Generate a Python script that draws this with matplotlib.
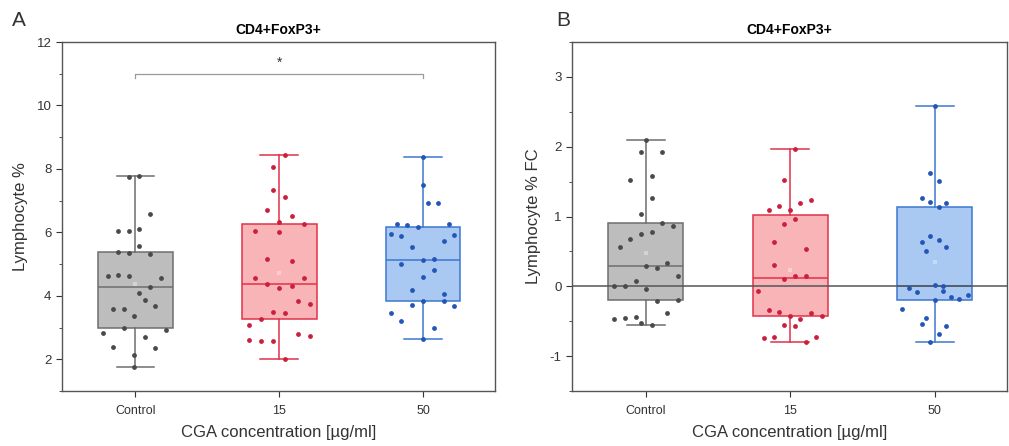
import matplotlib.pyplot as plt
import numpy as np

plt.rcParams['font.family'] = ['Liberation Sans', 'DejaVu Sans']
plt.rcParams['axes.unicode_minus'] = False

groups = ['Control', '15', '50']

# Panel A: Lymphocyte %
a_control = [7.73, 7.77, 6.57, 6.05, 6.05, 6.10, 5.56, 5.37, 5.35, 5.33, 4.62, 4.67, 4.62, 4.56, 4.27,
             4.10, 3.87, 3.67, 3.60, 3.59, 3.37, 2.99, 2.84, 2.92, 2.69, 2.40, 2.36, 2.13, 1.76]
a_control_jit = [-0.046, 0.028, 0.10, -0.118, -0.044, 0.028, 0.028, -0.118, -0.044, 0.10, -0.19, -0.118, -0.044,
                 0.178, 0.10, 0.028, 0.065, 0.14, -0.154, -0.081, -0.007, -0.081, -0.228, 0.215, 0.065, -0.154,
                 0.14, -0.007, -0.007]
a_15 = [8.43, 8.07, 7.35, 7.10, 6.70, 6.52, 6.33, 6.27, 6.04, 6.00, 5.15, 5.11, 4.56, 4.56, 4.38, 4.32, 4.24,
        3.85, 3.73, 3.48, 3.45, 3.28, 3.09, 2.80, 2.73, 2.62, 2.58, 2.57, 2.00]
a_15_jit = [0.04, -0.04, -0.04, 0.04, -0.083, 0.088, 0.0, 0.173, -0.171, 0.0, -0.083, 0.088, -0.171, 0.173,
            -0.083, 0.088, 0.0, 0.129, 0.215, -0.04, 0.04, -0.127, -0.212, 0.129, 0.215, -0.212, -0.127, -0.04, 0.04]
a_50 = [8.38, 7.48, 6.93, 6.94, 6.25, 6.22, 6.16, 6.26, 5.94, 5.90, 5.92, 5.72, 5.54, 5.12, 5.15, 4.99, 4.82,
        4.59, 4.18, 4.05, 3.84, 3.84, 3.72, 3.69, 3.46, 3.20, 3.00, 2.63]
a_50_jit = [0.0, 0.0, 0.035, 0.104, -0.182, -0.111, -0.035, 0.182, -0.221, -0.15, 0.212, 0.145, -0.074, 0.0,
            0.074, -0.15, 0.074, 0.0, -0.074, 0.145, 0.0, 0.145, -0.074, 0.212, -0.221, -0.15, 0.074, 0.0]
# box quartiles (Q1, median, Q3)
a_quartiles = [(3.00, 4.29, 5.39), (3.28, 4.38, 6.26), (3.85, 5.13, 6.17)]

# Panel B: Lymphocyte % FC
b_control = [2.09, 1.93, 1.92, 1.58, 1.52, 1.27, 1.03, 0.90, 0.87, 0.78, 0.75, 0.68, 0.56, 0.34, 0.29, 0.26,
             0.15, 0.08, 0.01, 0.01, -0.04, -0.21, -0.19, -0.38, -0.47, -0.45, -0.44, -0.52, -0.55]
b_control_jit = [0.0, -0.035, 0.11, 0.04, -0.11, 0.04, -0.035, 0.11, 0.187, 0.04, -0.035, -0.11, -0.18, 0.15,
                 0.0, 0.076, 0.22, -0.07, -0.22, -0.145, 0.0, 0.076, 0.22, 0.15, -0.22, -0.145, -0.07, -0.035, 0.04]
b_15 = [1.97, 1.52, 1.24, 1.19, 1.15, 1.09, 1.09, 0.96, 0.89, 0.64, 0.54, 0.31, 0.15, 0.15, 0.10, -0.07, -0.34,
        -0.37, -0.38, -0.42, -0.42, -0.47, -0.55, -0.57, -0.74, -0.73, -0.73, -0.80]
b_15_jit = [0.035, -0.04, 0.145, 0.07, -0.076, -0.15, 0.0, 0.035, -0.04, -0.11, 0.11, -0.11, 0.035, 0.11, -0.04,
            -0.22, -0.15, -0.076, 0.145, 0.22, 0.0, 0.07, -0.04, 0.035, -0.185, -0.11, 0.18, 0.11]
b_50 = [2.58, 1.62, 1.51, 1.26, 1.21, 1.19, 1.13, 0.72, 0.67, 0.63, 0.56, 0.51, 0.02, 0.01, -0.02, -0.08, -0.07,
        -0.15, -0.12, -0.18, -0.20, -0.32, -0.46, -0.54, -0.57, -0.68, -0.80]
b_50_jit = [0.0, -0.03, 0.03, -0.09, -0.03, 0.08, 0.03, -0.03, 0.03, -0.09, 0.08, -0.06, 0.0, 0.055, -0.18,
            -0.12, 0.055, 0.11, 0.23, 0.17, 0.0, -0.23, -0.06, -0.09, 0.08, 0.03, -0.03]
b_quartiles = [(-0.19, 0.29, 0.91), (-0.43, 0.12, 1.02), (-0.20, 0.0, 1.13)]

face_colors = ['#bdbdbd', '#f9b4b8', '#a9c8f2']
edge_colors = ['#6e6e6e', '#e0324a', '#3d78d0']
point_colors = ['#4a4a4a', '#cc1f3c', '#2356b8']
txt = '#333333'


def box_stats(values, quart):
    # whiskers go to min / max
    q1, med, q3 = quart
    return dict(med=med, q1=q1, q3=q3, whislo=min(values), whishi=max(values), fliers=[])


def draw_panel(ax, data, jitters, quartiles):
    pos = [1, 2, 3]
    stats = [box_stats(d, q) for d, q in zip(data, quartiles)]
    bp = ax.bxp(stats, positions=pos, widths=0.52, patch_artist=True,
                showfliers=False, capwidths=0.26, zorder=2)
    for i in range(3):
        bp['boxes'][i].set(facecolor=face_colors[i], edgecolor=edge_colors[i], linewidth=1.1)
        bp['medians'][i].set(color=edge_colors[i], linewidth=1.1)
        for w in bp['whiskers'][2 * i:2 * i + 2]:
            w.set(color=edge_colors[i], linewidth=1.1)
        for c in bp['caps'][2 * i:2 * i + 2]:
            c.set(color=edge_colors[i], linewidth=1.1)
        xs = pos[i] + np.array(jitters[i])
        ax.scatter(xs, data[i], s=12, color=point_colors[i], zorder=4, linewidths=0)
        ax.scatter([pos[i]], [np.mean(data[i])], s=8, marker='s', color='white', alpha=0.35,
                   zorder=3, linewidths=0)
    ax.set_xlim(0.49, 3.5)
    ax.set_xticks(pos)
    ax.set_xticklabels(groups, fontsize=9, color=txt)
    ax.tick_params(axis='y', labelsize=9.5, colors=txt, direction='out', length=4)
    ax.tick_params(axis='x', colors=txt, direction='out', length=4, pad=6)
    ax.tick_params(axis='y', which='minor', direction='out', length=2.5, colors=txt)
    for s in ax.spines.values():
        s.set_color('#555555')
        s.set_linewidth(1.0)
    ax.set_xlabel('CGA concentration [µg/ml]', fontsize=12, color=txt, labelpad=6)
    ax.set_title('CD4+FoxP3+', fontsize=10, fontweight='bold', pad=6)


fig = plt.figure(figsize=(10.09, 4.46), dpi=100)
ax1 = fig.add_axes([0.0614, 0.1233, 0.4292, 0.7825])
ax2 = fig.add_axes([0.567, 0.1233, 0.4310, 0.7825])

draw_panel(ax1, [a_control, a_15, a_50], [a_control_jit, a_15_jit, a_50_jit], a_quartiles)
ax1.set_ylim(1, 12)
ax1.set_yticks([2, 4, 6, 8, 10, 12])
ax1.set_yticks([1, 3, 5, 7, 9, 11], minor=True)
ax1.set_ylabel('Lymphocyte %', fontsize=12, color=txt, labelpad=6)
# significance bracket
ax1.plot([1, 1, 3, 3], [10.85, 11.0, 11.0, 10.85], color='#9a9a9a', linewidth=0.9)
ax1.text(2, 11.35, '*', ha='center', va='center', fontsize=10, color=txt)

draw_panel(ax2, [b_control, b_15, b_50], [b_control_jit, b_15_jit, b_50_jit], b_quartiles)
ax2.set_ylim(-1.5, 3.5)
ax2.set_yticks([-1, 0, 1, 2, 3])
ax2.set_yticks([-1.5, -0.5, 0.5, 1.5, 2.5, 3.5], minor=True)
ax2.set_ylabel('Lymphocyte % FC', fontsize=12, color=txt, labelpad=6)
ax2.axhline(0, color='#555555', linewidth=1.1, zorder=3)

fig.text(0.012, 0.955, 'A', fontsize=15, color=txt, va='center')
fig.text(0.551, 0.955, 'B', fontsize=15, color=txt, va='center')

fig.savefig('out.png', dpi=100)
